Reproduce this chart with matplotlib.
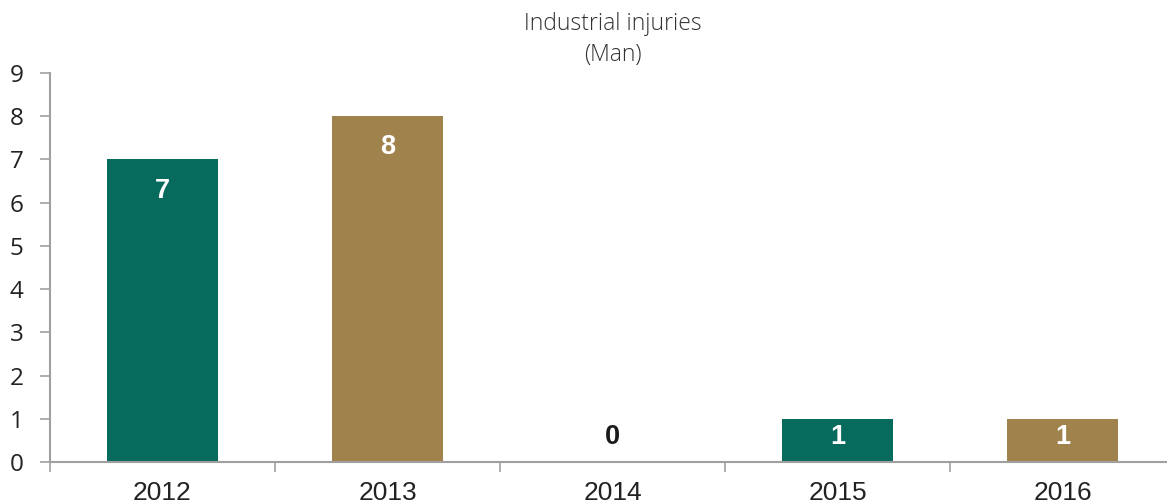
import matplotlib
matplotlib.use("Agg")
import matplotlib.pyplot as plt

years = ["2012", "2013", "2014", "2015", "2016"]
injuries = [7, 8, 0, 1, 1]
bar_colors = ["#066A5C", "#A0824C", "#066A5C", "#066A5C", "#A0824C"]
y_ticks = list(range(0, 10))

W, H = 1167, 504
fig = plt.figure(figsize=(W / 100, H / 100), dpi=100)
ax = fig.add_axes([50 / W, 42 / H, 1125 / W, 389 / H])

x = list(range(len(years)))
ax.bar(x, injuries, width=0.49, color=bar_colors, zorder=2)

ax.set_xlim(-0.5, len(years) - 0.5)
ax.set_ylim(0, 9)

grey = "#A0A0A0"
for side in ("top", "right"):
    ax.spines[side].set_visible(False)
for side in ("left", "bottom"):
    ax.spines[side].set_color(grey)
    ax.spines[side].set_linewidth(1.5)

# y axis ticks
ax.set_yticks(y_ticks)
ax.set_yticklabels([str(t) for t in y_ticks], fontfamily="Open Sans",
                   fontsize=17.5, color="#222222")
ax.tick_params(axis="y", length=7, width=1.2, color=grey, pad=12)

# x axis: ticks at category boundaries, labels centred
ax.set_xticks([i - 0.5 for i in range(len(years) + 1)])
ax.set_xticklabels([])
ax.tick_params(axis="x", length=7, width=1.2, color=grey, direction="out")
for i, yr in enumerate(years):
    ax.text(i, -0.44, yr, ha="center", va="top", fontsize=19,
            family="Liberation Sans", color="#222222",
            transform=ax.transData, clip_on=False)

# value labels
for i, v in enumerate(injuries):
    ly = max(v - 0.72, 0.58)
    col = "white" if v > 0 else "#1a1a1a"
    ax.text(i, ly, str(v), ha="center", va="center", fontsize=19.5,
            fontweight="bold", family="Liberation Sans", color=col, zorder=3)

fig.text(612.5 / W, 1 - 24 / H, "Industrial injuries", ha="center", va="center",
         fontsize=16.5, family="Open Sans", fontweight="light", color="#333333")
fig.text(612.5 / W, 1 - 55 / H, "(Man)", ha="center", va="center",
         fontsize=16.5, family="Open Sans", fontweight="light", color="#333333")

fig.savefig("out.png", dpi=100)
